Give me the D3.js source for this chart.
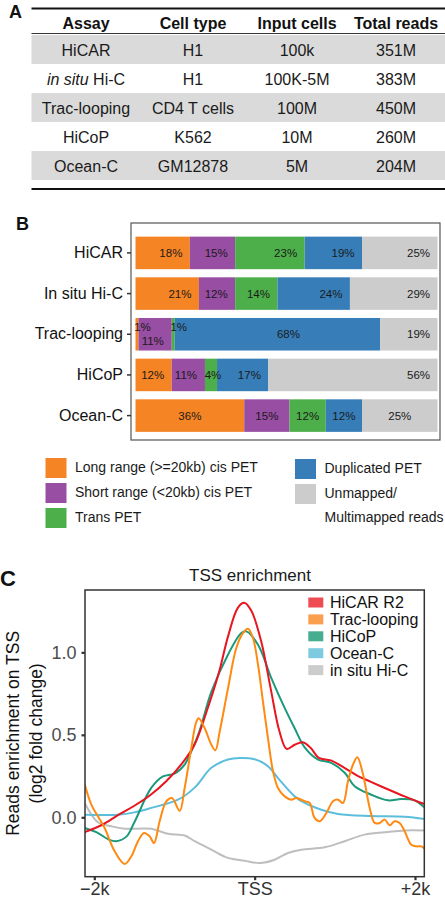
<!DOCTYPE html>
<html><head><meta charset="utf-8">
<script src="https://cdn.jsdelivr.net/npm/d3@7"></script>
<style>
html,body{margin:0;padding:0;background:#fff;}
svg{display:block;font-family:"Liberation Sans",Arial,sans-serif;}
</style></head>
<body><svg id="fig" width="445" height="899"></svg>
<script>
// ---------- Panel A: table ----------
const tableHeaders = ["Assay","Cell type","Input cells","Total reads"];
const assays = ["HiCAR","in situ Hi-C","Trac-looping","HiCoP","Ocean-C"];
const cellTypes = ["H1","H1","CD4 T cells","K562","GM12878"];
const inputCells = ["100k","100K-5M","100M","10M","5M"];
const totalReads = ["351M","383M","450M","260M","204M"];

// ---------- Panel B: stacked bars ----------
const barCategories = ["HiCAR","In situ Hi-C","Trac-looping","HiCoP","Ocean-C"];
const longRange  = [18,21,1,12,36];
const shortRange = [15,12,11,11,15];
const transPET   = [23,14,1,4,12];
const duplicated = [19,24,68,17,12];
const unmapped   = [25,29,19,56,25];
const barSeriesNames = ["Long range (>=20kb) cis PET","Short range (<20kb) cis PET","Trans PET","Duplicated PET","Unmapped/\nMultimapped reads"];

// ---------- Panel C: TSS enrichment ----------
const tssTickValues = [-2000,0,2000];
const tssTickLabels = ["\u22122k","TSS","+2k"];
const yTickValues = [0,0.5,1.0];
const lineNames = ["HiCAR R2","Trac-looping","HiCoP","Ocean-C","in situ Hi-C"];
const hicarPos = [-2120,-1900,-1700,-1500,-1300,-1100,-900,-750,-600,-450,-330,-210,-130,-40,80,200,310,400,500,600,700,800,950,1120,1290,1450,1660,1870,2080,2120];
const hicarVal = [-0.09,-0.045,0.015,0.07,0.135,0.22,0.33,0.44,0.64,0.87,1.10,1.27,1.30,1.25,1.07,0.78,0.52,0.415,0.44,0.455,0.42,0.36,0.345,0.30,0.25,0.215,0.17,0.127,0.087,0.08];
const tracPos = [-2120,-2037,-1955,-1871,-1746,-1622,-1538,-1455,-1380,-1310,-1255,-1185,-1102,-1031,-935,-873,-790,-727,-698,-623,-540,-490,-436,-333,-229,-146,-83,-21,42,104,166,229,291,374,457,520,624,686,748,811,894,977,1040,1102,1164,1227,1281,1352,1435,1497,1560,1622,1684,1746,1809,1871,1954,2017,2079,2120];
const tracVal = [0.2,0.077,0.006,-0.065,-0.206,-0.283,-0.236,-0.145,-0.095,-0.115,-0.156,-0.024,0.097,0.117,0.04,0.178,0.42,0.58,0.60,0.54,0.44,0.406,0.52,0.78,1.026,1.117,1.143,1.087,0.925,0.70,0.48,0.279,0.178,0.127,0.107,0.117,0.097,0.087,-0.004,-0.024,0.026,0.097,0.107,0.087,0.218,0.32,0.364,0.259,0.057,-0.034,-0.034,-0.014,-0.048,-0.024,-0.034,-0.085,-0.166,-0.176,-0.176,-0.19];
const hicopPos = [-2120,-1975,-1810,-1726,-1600,-1500,-1290,-1143,-1000,-873,-790,-690,-540,-333,-166,-104,42,208,374,499,624,790,956,1123,1247,1455,1663,1830,1996,2100,2120];
const hicopVal = [-0.065,-0.09,-0.137,-0.145,-0.117,-0.03,0.178,0.248,0.265,0.32,0.40,0.52,0.76,0.986,1.117,1.127,1.046,0.844,0.663,0.54,0.424,0.35,0.33,0.27,0.188,0.137,0.103,0.111,0.103,0.067,0.06];
const oceanPos = [-2120,-1705,-1500,-1289,-956,-748,-540,-333,-187,0,166,291,499,624,832,1040,1455,1871,2120];
const oceanVal = [0.015,0.016,0.03,0.057,0.107,0.18,0.30,0.35,0.36,0.352,0.31,0.238,0.127,0.087,0.046,0.02,0.008,0.004,-0.01];
const insituPos = [-2120,-1955,-1788,-1622,-1289,-1081,-873,-748,-540,-333,-125,62,249,416,582,873,1123,1372,1663,1871,2120];
const insituVal = [0.087,-0.03,-0.054,-0.069,-0.07,-0.10,-0.11,-0.145,-0.196,-0.246,-0.263,-0.277,-0.257,-0.216,-0.196,-0.182,-0.145,-0.105,-0.089,-0.08,-0.08];

// ================= drawing =================
const svg = d3.select("#fig");
const FONT = '"Liberation Sans",Arial,sans-serif';

// Panel letters
svg.append("text").attr("x",9).attr("y",18).attr("font-size",18).attr("font-weight","bold").attr("fill","#111").text("A");
svg.append("text").attr("x",16).attr("y",230).attr("font-size",18).attr("font-weight","bold").attr("fill","#111").text("B");
svg.append("text").attr("x",0).attr("y",586).attr("font-size",22).attr("font-weight","bold").attr("fill","#111").text("C");

// ---------- Table ----------
(function(){
  const colCenters = {"Assay":86,"Cell type":193,"Input cells":297,"Total reads":396};
  const rowY = d3.scaleBand().domain(d3.range(assays.length)).range([35,180]);
  const g = svg.append("g");
  g.selectAll("rect.band").data(d3.range(assays.length).filter(i=>i%2===0)).join("rect")
    .attr("x",31.5).attr("width",414).attr("y",i=>rowY(i)).attr("height",rowY.bandwidth())
    .attr("fill","#DADADA");
  g.append("line").attr("x1",31.5).attr("x2",445).attr("y1",8.5).attr("y2",8.5).attr("stroke","#111").attr("stroke-width",2);
  g.append("line").attr("x1",31.5).attr("x2",445).attr("y1",33.5).attr("y2",33.5).attr("stroke","#333").attr("stroke-width",1);
  g.append("line").attr("x1",31.5).attr("x2",445).attr("y1",189).attr("y2",189).attr("stroke","#111").attr("stroke-width",2);
  g.selectAll("text.h").data(tableHeaders).join("text")
    .attr("x",d=>colCenters[d]).attr("y",28.5).attr("text-anchor","middle")
    .attr("font-size",16).attr("font-weight","bold").attr("fill","#111").text(d=>d);
  const cols = [assays,cellTypes,inputCells,totalReads];
  cols.forEach((arr,ci)=>{
    const cx = colCenters[tableHeaders[ci]];
    arr.forEach((v,ri)=>{
      const t = g.append("text").attr("x",cx).attr("y",rowY(ri)+rowY.bandwidth()/2+6)
        .attr("text-anchor","middle").attr("font-size",16).attr("fill","#1a1a1a");
      if (v.startsWith("in situ")) {
        t.append("tspan").attr("font-style","italic").text("in situ");
        t.append("tspan").text(v.slice(7));
      } else t.text(v);
    });
  });
})();

// ---------- Stacked bars ----------
(function(){
  const barColors = ["#F58424","#984EA3","#4DAF4A","#377EB8","#CCCCCC"];
  const seriesArrays = [longRange,shortRange,transPET,duplicated,unmapped];
  const rows = barCategories.map((c,i)=>{
    let acc = 0;
    return {cat:c, idx:i, segs: seriesArrays.map((arr,k)=>{const s={k, v:arr[i], x0:acc, x1:acc+arr[i]}; acc+=arr[i]; return s;})};
  });
  const x = d3.scaleLinear().domain([0,100]).range([135.5,437.5]);
  const y = d3.scaleBand().domain(barCategories).range([228.5,440]).paddingInner(0.2).paddingOuter(0.2);
  svg.append("rect").attr("x",131).attr("y",223).attr("width",309).attr("height",217)
    .attr("fill","none").attr("stroke","#555").attr("stroke-width",1.2);
  const g = svg.append("g");
  const rg = g.selectAll("g.row").data(rows).join("g");
  rg.selectAll("rect").data(d=>d.segs.map(s=>Object.assign({cat:d.cat,idx:d.idx},s))).join("rect")
    .attr("x",d=>x(d.x0)).attr("width",d=>x(d.x1)-x(d.x0))
    .attr("y",d=>y(d.cat)).attr("height",y.bandwidth())
    .attr("fill",d=>barColors[d.k]);
  rows.forEach(r=>{
    r.segs.forEach((s,j)=>{
      const x0 = x(s.x0), x1 = x(s.x1), w = x1-x0, cx=(x0+x1)/2;
      let lx, ly = y(r.cat)+y.bandwidth()/2;
      const tinyRow = r.segs.some(q=>q.v<3);
      if (s.v < 3) { lx = x0+7; ly -= 7; }
      else if (w < 15) { lx = cx+2; }
      else if (r.idx === barCategories.length-1) { lx = cx; }
      else if (w > 180) { lx = cx+11; }
      else { lx = x1-19; }
      if (tinyRow && s.v >= 3 && s.v < 15) ly += 7;
      g.append("text").attr("x",lx).attr("y",ly+4).attr("text-anchor","middle")
        .attr("font-size",11.5).attr("fill","#1a1a1a").text(s.v+"%");
    });
  });
  const ax = svg.append("g").attr("transform","translate(131,0)")
    .call(d3.axisLeft(y).tickSize(4).tickPadding(4));
  ax.select(".domain").remove();
  ax.selectAll(".tick line").attr("stroke","#333").attr("stroke-width",1.5);
  ax.selectAll(".tick text").attr("font-size",16).attr("fill","#111").attr("font-family",FONT);

  const legPos = [[45.5,458],[45.5,483],[45.5,508],[295,459],[295,484]];
  const lg = svg.append("g");
  barSeriesNames.forEach((n,i)=>{
    const [lx,ly] = legPos[i];
    lg.append("rect").attr("x",lx).attr("y",ly).attr("width",21).attr("height",20).attr("fill",barColors[i]);
    n.split("\n").forEach((t,li)=>{
      lg.append("text").attr("x",lx+29.5).attr("y",ly+14+li*24).attr("font-size",14).attr("fill","#1a1a1a").text(t);
    });
  });
})();

// ---------- TSS enrichment ----------
(function(){
  const lineColors = ["#E8161E","#FF8A12","#1A9A7A","#5CBEDC","#BEBEBE"];
  const keyColors  = ["#EE4B53","#FB9E4E","#46AD91","#7DCBE0","#CCCCCC"];
  const L=85, R=424.3, T=590, B=876.7;
  const x = d3.scaleLinear().domain([-2116,2116]).range([L,R]);
  const y = d3.scaleLinear().domain([-0.36,1.378]).range([B,T]);
  svg.append("text").attr("x",250).attr("y",581).attr("text-anchor","middle")
    .attr("font-size",17).attr("fill","#1a1a1a").text("TSS enrichment");
  svg.append("clipPath").attr("id","pc").append("rect").attr("x",L).attr("y",T).attr("width",R-L).attr("height",B-T);
  const series = [
    {pos:hicarPos,val:hicarVal},{pos:tracPos,val:tracVal},{pos:hicopPos,val:hicopVal},
    {pos:oceanPos,val:oceanVal},{pos:insituPos,val:insituVal}];
  const line = d3.line().x(d=>x(d[0])).y(d=>y(d[1])).curve(d3.curveCatmullRom.alpha(0.5));
  const drawOrder = [4,3,2,0,1];
  const g = svg.append("g").attr("clip-path","url(#pc)");
  drawOrder.forEach(i=>{
    const s = series[i];
    g.append("path").datum(s.pos.map((p,k)=>[p,s.val[k]])).attr("d",line)
      .attr("fill","none").attr("stroke",lineColors[i]).attr("stroke-width",2);
  });
  svg.append("rect").attr("x",L).attr("y",T).attr("width",R-L).attr("height",B-T)
    .attr("fill","none").attr("stroke","#333").attr("stroke-width",1.5);
  const ay = svg.append("g").attr("transform",`translate(${L},0)`)
    .call(d3.axisLeft(y).tickValues(yTickValues).tickFormat(d3.format(".1f")).tickSize(3.5).tickPadding(5));
  ay.select(".domain").remove();
  ay.selectAll(".tick line").attr("stroke","#333").attr("stroke-width",2.2);
  ay.selectAll(".tick text").attr("font-size",18).attr("fill","#4D4D4D").attr("font-family",FONT);
  const axb = svg.append("g").attr("transform",`translate(0,${B})`)
    .call(d3.axisBottom(x).tickValues(tssTickValues).tickFormat((d,i)=>tssTickLabels[i]).tickSize(3.5).tickPadding(2));
  axb.select(".domain").remove();
  axb.selectAll(".tick line").attr("stroke","#333").attr("stroke-width",2.2);
  axb.selectAll(".tick text").attr("font-size",18).attr("fill","#333").attr("font-family",FONT);
  const yt = svg.append("text").attr("transform",`translate(19,${(T+B)/2}) rotate(-90)`)
    .attr("text-anchor","middle").attr("font-size",17.5).attr("fill","#111");
  yt.append("tspan").attr("x",0).attr("dy",0).text("Reads enrichment on TSS");
  yt.append("tspan").attr("x",0).attr("dy",23).text("(log2 fold change)");
  const lg = svg.append("g");
  lineNames.forEach((n,i)=>{
    const cy = 602.5 + i*16.9;
    lg.append("rect").attr("x",308.3).attr("y",cy-5).attr("width",15).attr("height",10).attr("fill",keyColors[i]);
    lg.append("text").attr("x",330).attr("y",cy+5.5).attr("font-size",16).attr("fill","#111").text(n);
  });
})();
</script></body></html>
